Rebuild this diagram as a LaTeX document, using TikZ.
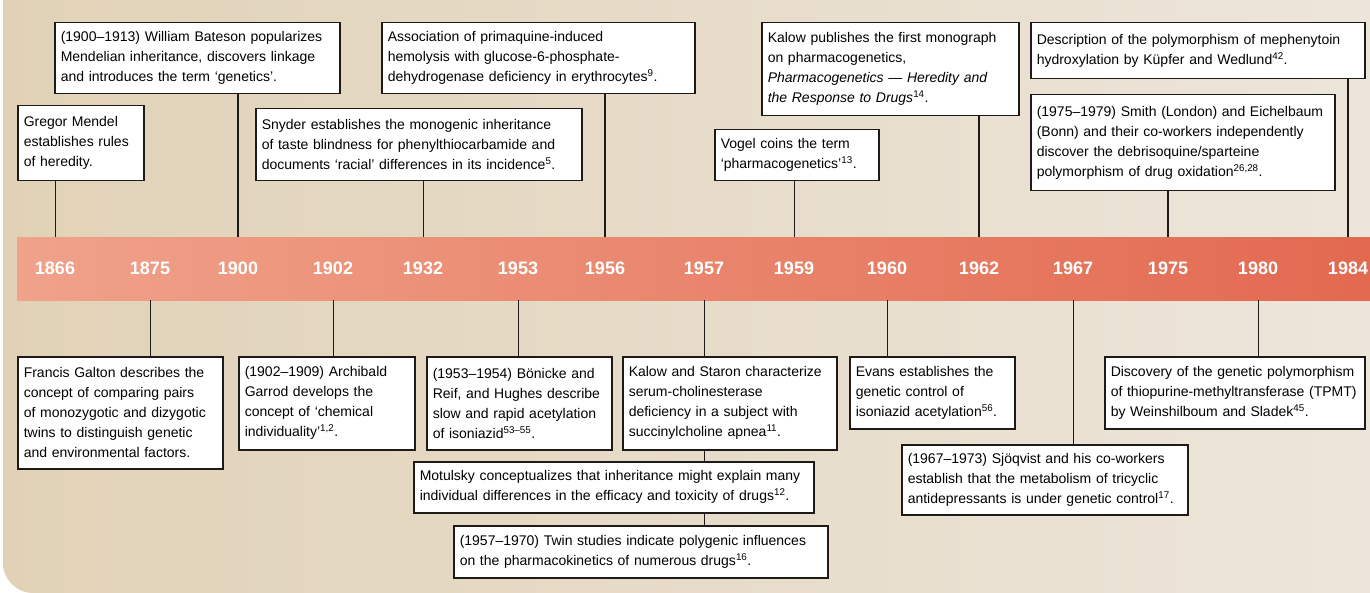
\documentclass[tikz,border=0pt]{standalone}
\usepackage{fontspec}
\setmainfont{Liberation Sans}
\usepackage{xcolor}
\usepackage{tikz}
\usetikzlibrary{positioning, calc}
\definecolor{paperLeft}{RGB}{225,210,183}
\definecolor{paperRight}{RGB}{237,230,220}
\definecolor{barLeft}{RGB}{240,162,138}
\definecolor{barRight}{RGB}{226,104,79}
\definecolor{inkBlack}{RGB}{30,26,24}

\begin{document}
\begin{tikzpicture}[x=1pt, y=-1pt,
    event/.style={draw=inkBlack, fill=white, line width=1.5pt, anchor=north west,
        align=left, inner xsep=6pt, inner ysep=0pt,
        font=\fontsize{14}{20}\selectfont},
    year/.style={text=white, font=\fontsize{18}{18}\selectfont\bfseries},
    tick/.style={draw=inkBlack, line width=0.9pt},
    bigtick/.style={draw=inkBlack, line width=1.7pt}]
    \useasboundingbox (0,0) rectangle (1370,593);

    % Background
    \shade[left color=paperLeft, right color=paperRight, rounded corners=30pt]
        (3,-40) -- (3,593) -- (1420,593) -- (1420,-40) -- cycle;

    % Timeline bar
    \node[left color=barLeft, right color=barRight, minimum width=1383pt, minimum height=63pt,
        inner sep=0pt, anchor=north west] (bar) at (17,237) {};

    % Years
    \foreach \yr/\x in {1866/55, 1875/150, 1900/238, 1902/333, 1932/423, 1953/518, 1956/605,
        1957/704, 1959/794, 1960/887, 1962/979, 1967/1073, 1975/1168, 1980/1258, 1984/1348}
        \node[year] (y\yr) at (\x, 268.5) {\yr};

    % Events above the bar
    \node[event, text width=114pt, minimum height=75pt] (mendel) at (17,105)
        {Gregor Mendel\\establishes rules\\of heredity.};
    \node[event, text width=273pt, minimum height=71pt] (bateson) at (54,22)
        {(1900–1913) William Bateson popularizes\\Mendelian inheritance, discovers linkage\\and introduces the term ‘genetics’.};
    \node[event, text width=314pt, minimum height=72pt] (snyder) at (255,108)
        {Snyder establishes the monogenic inheritance\\of taste blindness for phenylthiocarbamide and\\documents ‘racial’ differences in its incidence\textsuperscript{5}.};
    \node[event, text width=301pt, minimum height=71pt] (primaquine) at (381,22)
        {Association of primaquine-induced\\hemolysis with glucose-6-phosphate-\\dehydrogenase deficiency in erythrocytes\textsuperscript{9}.};
    \node[event, text width=152pt, minimum height=51pt] (vogel) at (714,129)
        {Vogel coins the term\\‘pharmacogenetics’\textsuperscript{13}.};
    \node[event, text width=245pt, minimum height=93pt] (kalowbook) at (761,22)
        {Kalow publishes the first monograph\\on pharmacogenetics,\\\textit{Pharmacogenetics — Heredity and}\\\textit{the Response to Drugs}\textsuperscript{14}.};
    \node[event, text width=322pt, minimum height=56pt] (mephenytoin) at (1030,22)
        {Description of the polymorphism of mephenytoin\\hydroxylation by Küpfer and Wedlund\textsuperscript{42}.};
    \node[event, text width=292pt, minimum height=96pt] (debrisoquine) at (1030,94)
        {(1975–1979) Smith (London) and Eichelbaum\\(Bonn) and their co-workers independently\\discover the debrisoquine/sparteine\\polymorphism of drug oxidation\textsuperscript{26,28}.};

    % Events below the bar
    \node[event, text width=193pt, minimum height=112pt] (galton) at (17,356)
        {Francis Galton describes the\\concept of comparing pairs\\of monozygotic and dizygotic\\twins to distinguish genetic\\and environmental factors.};
    \node[event, text width=164pt, minimum height=93pt] (garrod) at (238,356)
        {(1902–1909) Archibald\\Garrod develops the\\concept of ‘chemical\\individuality’\textsuperscript{1,2}.};
    \node[event, text width=173pt, minimum height=93pt] (isoniazid) at (426,356)
        {(1953–1954) Bönicke and\\Reif, and Hughes describe\\slow and rapid acetylation\\of isoniazid\textsuperscript{53–55}.};
    \node[event, text width=202pt, minimum height=93pt] (cholinesterase) at (622,356)
        {Kalow and Staron characterize\\serum-cholinesterase\\deficiency in a subject with\\succinylcholine apnea\textsuperscript{11}.};
    \node[event, text width=388pt, minimum height=51pt] (motulsky) at (413,461)
        {Motulsky conceptualizes that inheritance might explain many\\individual differences in the efficacy and toxicity of drugs\textsuperscript{12}.};
    \node[event, text width=362pt, minimum height=52pt] (twins) at (453,525)
        {(1957–1970) Twin studies indicate polygenic influences\\on the pharmacokinetics of numerous drugs\textsuperscript{16}.};
    \node[event, text width=153pt, minimum height=72pt] (evans) at (849,356)
        {Evans establishes the\\genetic control of\\isoniazid acetylation\textsuperscript{56}.};
    \node[event, text width=274pt, minimum height=70pt] (sjoqvist) at (901,444)
        {(1967–1973) Sjöqvist and his co-workers\\establish that the metabolism of tricyclic\\antidepressants is under genetic control\textsuperscript{17}.};
    \node[event, text width=248pt, minimum height=72pt] (tpmt) at (1104,356)
        {Discovery of the genetic polymorphism\\of thiopurine-methyltransferase (TPMT)\\by Weinshilboum and Sladek\textsuperscript{45}.};

    % Connectors above
    \draw[tick] (mendel.south -| y1866) -- (y1866 |- bar.north);
    \draw[bigtick] (bateson.south -| y1900) -- (y1900 |- bar.north);
    \draw[tick] (snyder.south -| y1932) -- (y1932 |- bar.north);
    \draw[bigtick] (primaquine.south -| y1956) -- (y1956 |- bar.north);
    \draw[tick] (vogel.south -| y1959) -- (y1959 |- bar.north);
    \draw[bigtick] (kalowbook.south -| y1962) -- (y1962 |- bar.north);
    \draw[bigtick] (debrisoquine.south -| y1975) -- (y1975 |- bar.north);
    \draw[bigtick] (mephenytoin.south -| y1984) -- (y1984 |- bar.north);

    % Connectors below
    \draw[tick] (y1875 |- bar.south) -- (galton.north -| y1875);
    \draw[tick] (y1902 |- bar.south) -- (garrod.north -| y1902);
    \draw[tick] (y1953 |- bar.south) -- (isoniazid.north -| y1953);
    \draw[tick] (y1957 |- bar.south) -- (cholinesterase.north -| y1957);
    \draw[tick] (cholinesterase.south -| y1957) -- (motulsky.north -| y1957);
    \draw[tick] (motulsky.south -| y1957) -- (twins.north -| y1957);
    \draw[tick] (y1960 |- bar.south) -- (evans.north -| y1960);
    \draw[tick] (y1967 |- bar.south) -- (sjoqvist.north -| y1967);
    \draw[tick] (y1980 |- bar.south) -- (tpmt.north -| y1980);
\end{tikzpicture}
\end{document}
